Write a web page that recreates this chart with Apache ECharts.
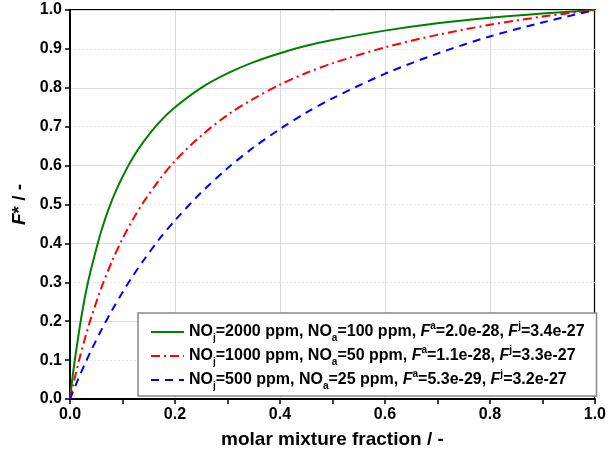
<!DOCTYPE html>
<html><head><meta charset="utf-8">
<script src="https://cdn.jsdelivr.net/npm/echarts@6/dist/echarts.min.js"></script>
<style>html,body{margin:0;padding:0;background:#fff}#c{width:609px;height:458px}</style>
</head><body><div id="c"></div>
<script>
const xValues = [0, 0.005, 0.01, 0.02, 0.03, 0.04, 0.06, 0.08, 0.1, 0.12, 0.14, 0.17, 0.2, 0.25, 0.3, 0.35, 0.4, 0.45, 0.5, 0.6, 0.7, 0.8, 0.9, 1.0];
const green2000 = [0, 0.058, 0.108, 0.197, 0.273, 0.333, 0.434, 0.511, 0.571, 0.621, 0.661, 0.711, 0.750, 0.800, 0.837, 0.866, 0.889, 0.908, 0.923, 0.947, 0.966, 0.980, 0.991, 1.0];
const red1000 = [0, 0.031, 0.060, 0.114, 0.163, 0.208, 0.287, 0.354, 0.412, 0.462, 0.506, 0.563, 0.612, 0.677, 0.730, 0.772, 0.808, 0.838, 0.863, 0.904, 0.936, 0.962, 0.983, 1.0];
const blue500 = [0, 0.017, 0.033, 0.065, 0.095, 0.124, 0.178, 0.228, 0.274, 0.317, 0.356, 0.411, 0.459, 0.531, 0.593, 0.647, 0.694, 0.736, 0.773, 0.836, 0.888, 0.932, 0.968, 1.0];
const seriesNames = [
  'NO{sub|j}=2000 ppm, NO{sub|a}=100 ppm, {it|F}{sup|a}=2.0e-28, {it|F}{sup|j}=3.4e-27',
  'NO{sub|j}=1000 ppm, NO{sub|a}=50 ppm, {it|F}{sup|a}=1.1e-28, {it|F}{sup|j}=3.3e-27',
  'NO{sub|j}=500 ppm, NO{sub|a}=25 ppm, {it|F}{sup|a}=5.3e-29, {it|F}{sup|j}=3.2e-27'
];
const seriesKeys = ['s1','s2','s3'];

const font = 'Liberation Sans, Arial, sans-serif';
function pairs(ys){ return xValues.map((x,i)=>[x, ys[i]]); }

const chart = echarts.init(document.getElementById('c'), null, {renderer:'canvas'});
const mkSeries = (key, data, color, type) => ({
  name: key, type: 'line', data: pairs(data), smooth: 0.3, showSymbol: false, symbol: 'none',
  xAxisIndex: 0, yAxisIndex: 0,
  lineStyle: {color: color, width: 2, type: type}, itemStyle: {color: color}, z: 5
});
chart.setOption({
  animation: false,
  backgroundColor: '#fff',
  grid: {left: 70, right: 11, top: 10, bottom: 59, show: true, borderColor: '#000', borderWidth: 2, backgroundColor: 'transparent'},
  xAxis: [{
    type: 'value', min: 0, max: 1, interval: 0.2,
    name: 'molar mixture fraction / -', nameLocation: 'middle', nameGap: 31,
    nameTextStyle: {fontFamily: font, fontWeight: 'bold', fontSize: 19, color: '#000'},
    axisLine: {show: true, onZero: false, lineStyle: {color: '#000', width: 2}},
    axisTick: {show: true, length: 5, lineStyle: {color: '#000', width: 1.5}},
    minorTick: {show: true, splitNumber: 2, length: 5, lineStyle: {color: '#000', width: 1.5}},
    axisLabel: {fontFamily: font, fontWeight: 'bold', fontSize: 16, color: '#000', margin: 8, formatter: v => v.toFixed(1)},
    splitLine: {show: true, lineStyle: {color: '#d9d9d9', width: 1}}
  }],
  yAxis: [{
    type: 'value', min: 0, max: 1, interval: 0.1,
    name: '{it|F}* / -', nameLocation: 'middle', nameGap: 38, nameRotate: 90,
    nameTextStyle: {fontFamily: font, fontWeight: 'bold', fontSize: 19, color: '#000',
      rich: {it: {fontFamily: font, fontWeight: 'bold', fontStyle: 'italic', fontSize: 19, color: '#000'}}},
    axisLine: {show: true, onZero: false, lineStyle: {color: '#000', width: 2}},
    axisTick: {show: true, length: 5, lineStyle: {color: '#000', width: 1.5}},
    axisLabel: {fontFamily: font, fontWeight: 'bold', fontSize: 16, color: '#000', margin: 8, formatter: v => v.toFixed(1)},
    splitLine: {show: false}
  }, {
    type: 'value', min: 0, max: 1, interval: 0.2, position: 'left',
    axisLine: {show: false}, axisTick: {show: false}, axisLabel: {show: false},
    splitLine: {show: true, lineStyle: {color: '#d9d9d9', width: 1}},
    minorTick: {show: false, splitNumber: 2},
    minorSplitLine: {show: true, lineStyle: {color: '#e6e6e6', width: 1, type: [2, 2]}}
  }],
  legend: {
    left: 138, top: 313, width: 455, orient: 'vertical',
    backgroundColor: '#fff', borderColor: '#888', borderWidth: 1.5,
    padding: [8, 12, 5, 12], itemGap: 2, itemWidth: 33, itemHeight: 14,
    itemStyle: {opacity: 0},
    data: seriesKeys,
    formatter: k => seriesNames[seriesKeys.indexOf(k)],
    textStyle: {fontFamily: font, fontWeight: 'bold', fontSize: 16, color: '#000',
      rich: {
        sub: {fontFamily: font, fontWeight: 'bold', fontSize: 10, color: '#000', padding: [12, 0, 0, 0]},
        sup: {fontFamily: font, fontWeight: 'bold', fontSize: 10, color: '#000', padding: [0, 0, 12, 0]},
        it: {fontFamily: font, fontWeight: 'bold', fontStyle: 'italic', fontSize: 16, color: '#000'}
      }}
  },
  series: [
    mkSeries('s1', green2000, '#008000', 'solid'),
    mkSeries('s2', red1000, '#ff0000', [9, 4, 2, 4]),
    mkSeries('s3', blue500, '#0000ff', [8, 6])
  ]
});
</script></body></html>
